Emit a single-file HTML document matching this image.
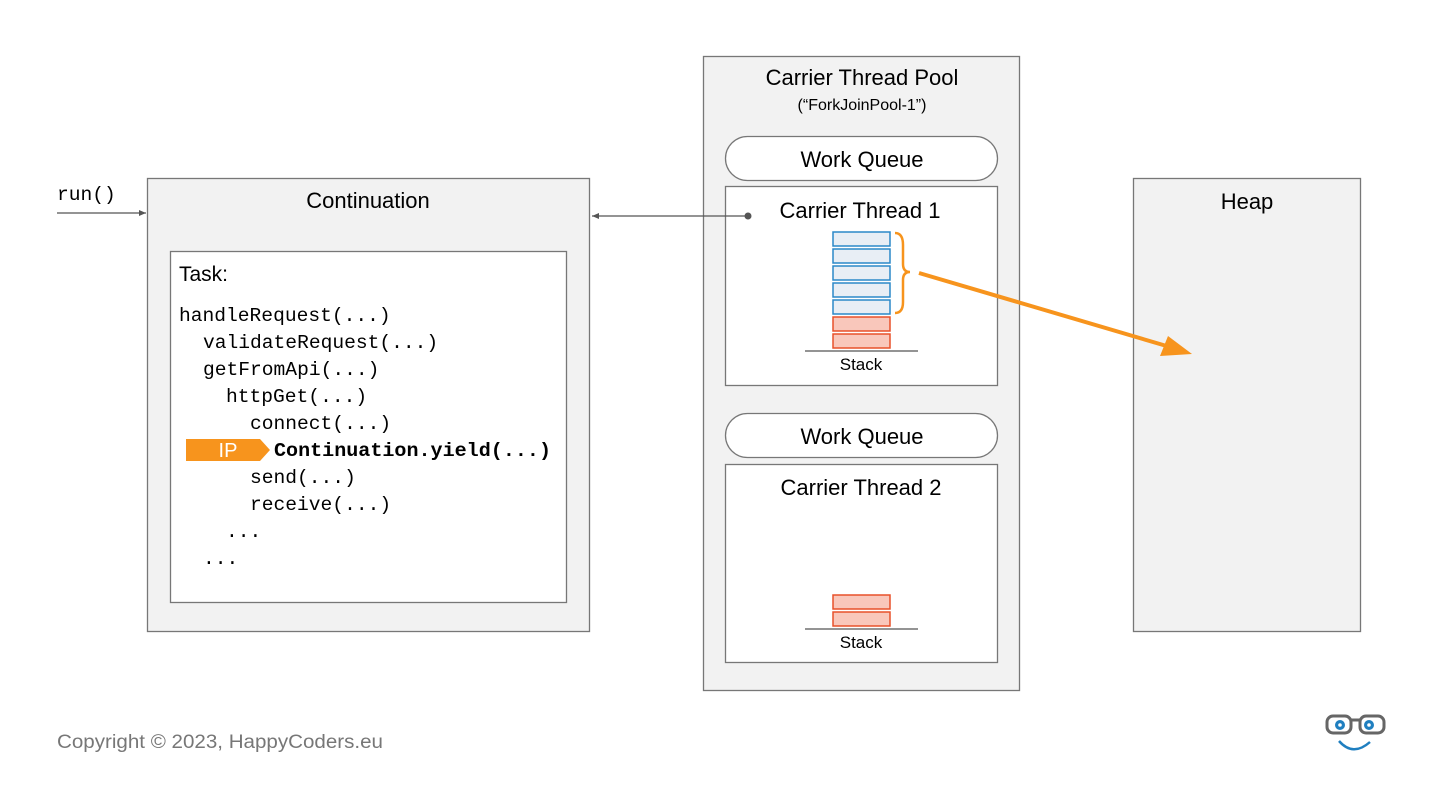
<!DOCTYPE html>
<html><head><meta charset="utf-8"><style>
html,body{margin:0;padding:0;background:#fff;}
svg{display:block;}
.s{font-family:"Liberation Sans",sans-serif;}
.m{font-family:"Liberation Mono",monospace;font-size:19.6px;fill:#000;}
</style></head><body>
<svg width="1440" height="810" viewBox="0 0 1440 810" xmlns="http://www.w3.org/2000/svg">
<defs>
<marker id="ah" markerWidth="8" markerHeight="8" refX="7" refY="4" orient="auto" markerUnits="userSpaceOnUse"><path d="M0,1 L7,4 L0,7 z" fill="#555"/></marker>
</defs>
<text x="57" y="200" class="m">run()</text>
<line x1="57" y1="213" x2="146" y2="213" stroke="#555" stroke-width="1.3" marker-end="url(#ah)"/>
<rect x="147.5" y="178.5" width="442" height="453" fill="#f2f2f2" stroke="#777" stroke-width="1.3"/>
<text x="368" y="208" text-anchor="middle" class="s" font-size="22" fill="#000">Continuation</text>
<rect x="170.5" y="251.5" width="396" height="351" fill="#fff" stroke="#777" stroke-width="1.3"/>
<text x="179" y="281" class="s" font-size="21">Task:</text>
<text x="179" y="321" class="m">handleRequest(...)</text>
<text x="203" y="348" class="m">validateRequest(...)</text>
<text x="203" y="375" class="m">getFromApi(...)</text>
<text x="226" y="402" class="m">httpGet(...)</text>
<text x="250" y="429" class="m">connect(...)</text>
<path d="M186,439 L260,439 L270,450 L260,461 L186,461 z" fill="#f7941d"/>
<text x="228" y="457" text-anchor="middle" class="s" font-size="20" fill="#fff">IP</text>
<text x="274" y="456" class="m" font-weight="bold" textLength="277" lengthAdjust="spacingAndGlyphs">Continuation.yield(...)</text>
<text x="250" y="483" class="m">send(...)</text>
<text x="250" y="510" class="m">receive(...)</text>
<text x="226" y="537" class="m">...</text>
<text x="203" y="564" class="m">...</text>
<rect x="703.5" y="56.5" width="316" height="634" fill="#f2f2f2" stroke="#777" stroke-width="1.3"/>
<text x="862" y="85" text-anchor="middle" class="s" font-size="22">Carrier Thread Pool</text>
<text x="862" y="110" text-anchor="middle" class="s" font-size="16">(“ForkJoinPool-1”)</text>
<rect x="725.5" y="136.5" width="272" height="44" rx="22" fill="#fff" stroke="#777" stroke-width="1.3"/>
<text x="862" y="167" text-anchor="middle" class="s" font-size="22">Work Queue</text>
<rect x="725.5" y="186.5" width="272" height="199" fill="#fff" stroke="#777" stroke-width="1.3"/>
<text x="860" y="218" text-anchor="middle" class="s" font-size="22">Carrier Thread 1</text>
<circle cx="748" cy="216" r="3.5" fill="#555"/>
<line x1="748" y1="216" x2="592" y2="216" stroke="#555" stroke-width="1.3" marker-end="url(#ah)"/>
<g stroke="#2b88c8" stroke-width="1.5" fill="#e8eef5">
<rect x="833" y="232" width="57" height="14"/><rect x="833" y="249" width="57" height="14"/><rect x="833" y="266" width="57" height="14"/><rect x="833" y="283" width="57" height="14"/><rect x="833" y="300" width="57" height="14"/>
</g>
<g stroke="#e8502a" stroke-width="1.5" fill="#f9c7bb">
<rect x="833" y="317" width="57" height="14"/><rect x="833" y="334" width="57" height="14"/>
</g>
<line x1="805" y1="351" x2="918" y2="351" stroke="#555" stroke-width="1.3"/>
<text x="861" y="370" text-anchor="middle" class="s" font-size="17">Stack</text>
<path d="M895,233 Q903,233 903,245 L903,264 Q903,272 910,272 Q903,272 903,280 L903,302 Q903,313 895,313" fill="none" stroke="#f7941d" stroke-width="2.5"/>
<rect x="725.5" y="413.5" width="272" height="44" rx="22" fill="#fff" stroke="#777" stroke-width="1.3"/>
<text x="862" y="444" text-anchor="middle" class="s" font-size="22">Work Queue</text>
<rect x="725.5" y="464.5" width="272" height="198" fill="#fff" stroke="#777" stroke-width="1.3"/>
<text x="861" y="495" text-anchor="middle" class="s" font-size="22">Carrier Thread 2</text>
<g stroke="#e8502a" stroke-width="1.5" fill="#f9c7bb">
<rect x="833" y="595" width="57" height="14"/><rect x="833" y="612" width="57" height="14"/>
</g>
<line x1="805" y1="629" x2="918" y2="629" stroke="#555" stroke-width="1.3"/>
<text x="861" y="648" text-anchor="middle" class="s" font-size="17">Stack</text>
<rect x="1133.5" y="178.5" width="227" height="453" fill="#f2f2f2" stroke="#777" stroke-width="1.3"/>
<text x="1247" y="209" text-anchor="middle" class="s" font-size="22">Heap</text>
<line x1="919" y1="273" x2="1170" y2="347" stroke="#f7941d" stroke-width="4"/>
<path d="M1192,354 L1160,356 L1168,336 z" fill="#f7941d"/>
<text x="57" y="748" class="s" font-size="19" fill="#777" textLength="326" lengthAdjust="spacingAndGlyphs">Copyright © 2023, HappyCoders.eu</text>
<g>
<rect x="1327" y="716" width="24" height="17" rx="6" fill="#fff" stroke="#666" stroke-width="3"/>
<rect x="1360" y="716" width="24" height="17" rx="6" fill="#fff" stroke="#666" stroke-width="3"/>
<line x1="1351" y1="720" x2="1360" y2="720" stroke="#666" stroke-width="3"/>
<circle cx="1340" cy="725" r="5" fill="#1f7fc0"/><circle cx="1340" cy="725" r="1.8" fill="#fff"/>
<circle cx="1369" cy="725" r="5" fill="#1f7fc0"/><circle cx="1369" cy="725" r="1.8" fill="#fff"/>
<path d="M1339,741 Q1353,757 1370,742" fill="none" stroke="#1f7fc0" stroke-width="2.5"/>
</g>
</svg>
</body></html>
